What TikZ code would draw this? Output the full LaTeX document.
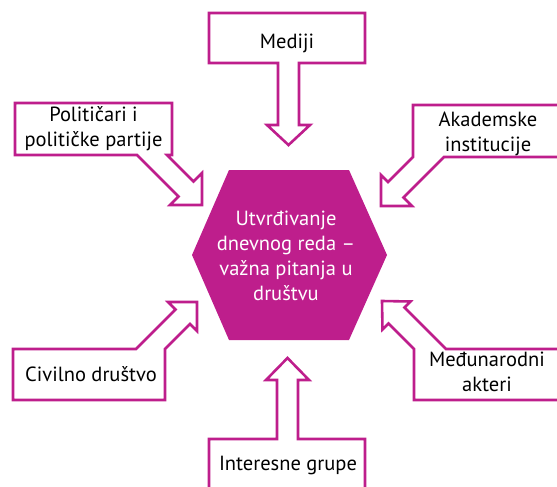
\documentclass[tikz,border=0pt]{standalone}
\usepackage{fontspec}
\setmainfont{PT Sans}
\definecolor{mag}{RGB}{190,30,140}
\begin{document}
\begin{tikzpicture}[x=1pt,y=-1pt,
  outline/.style={draw=mag,line width=2.6pt,fill=white,line join=miter},
  lbl/.style={font=\fontsize{20.5}{25}\selectfont,align=center,inner sep=0pt,text=black,anchor=north},
  hexlbl/.style={lbl,text=white}]
\useasboundingbox (0,0) rectangle (557,487);
% central hexagon
\fill[mag] (192,255)--(229,170)--(349,170)--(387,255)--(349,340)--(229,340)--cycle;
\node[hexlbl] (hex) at (286,207.5) {\strut Utvrđivanje\\dnevnog reda –\\važna pitanja u\\društvu};
% Mediji
\draw[outline] (209,13)--(365,13)--(365,63)--(299,63)--(299,125)--(310,125)--(288.5,145)--(267,125)--(278,125)--(278,63)--(209,63)--cycle;
\node[lbl] (med) at (287,30.5) {\strut Mediji};
% Interesne grupe
\draw[outline] (209,495)--(209,439)--(277,439)--(277,380)--(266,380)--(287.5,358)--(309,380)--(298,380)--(298,439)--(365,439)--(365,495);
\node[lbl] (int) at (288,452.5) {\strut Interesne grupe};
% Politicari
\draw[outline] (15,103)--(172,103)--(172,155)--(167,155)--(193.5,181.5)--(202,173)--(202,205)--(170,205)--(178.5,196.5)--(137,155)--(15,155)--cycle;
\node[lbl] (pol) at (93.5,104.2) {\strut Političari i\\političke partije};
% Akademske
\draw[outline] (413,105)--(565,105)--(565,157)--(444,157)--(403.5,197.5)--(412,206)--(381,206)--(381,175)--(388,182)--(413,157)--cycle;
\node[lbl] (aka) at (488,109.2) {\strut Akademske\\institucije};
% Civilno drustvo
\draw[outline] (13,349)--(136,349)--(175.5,309.5)--(168,302)--(197,302)--(197,331)--(190,324)--(165,349)--(165,400)--(13,400)--cycle;
\node[lbl] (civ) at (91,364.2) {\strut Civilno društvo};
% Medjunarodni akteri
\draw[outline] (414,400)--(414,349)--(388.5,323.5)--(382.5,329.5)--(382,301)--(410.5,301.5)--(404.5,307.5)--(446,349)--(565,349)--(565,400)--cycle;
\node[lbl] (mea) at (487,349.2) {\strut Međunarodni\\akteri};
\end{tikzpicture}
\end{document}
